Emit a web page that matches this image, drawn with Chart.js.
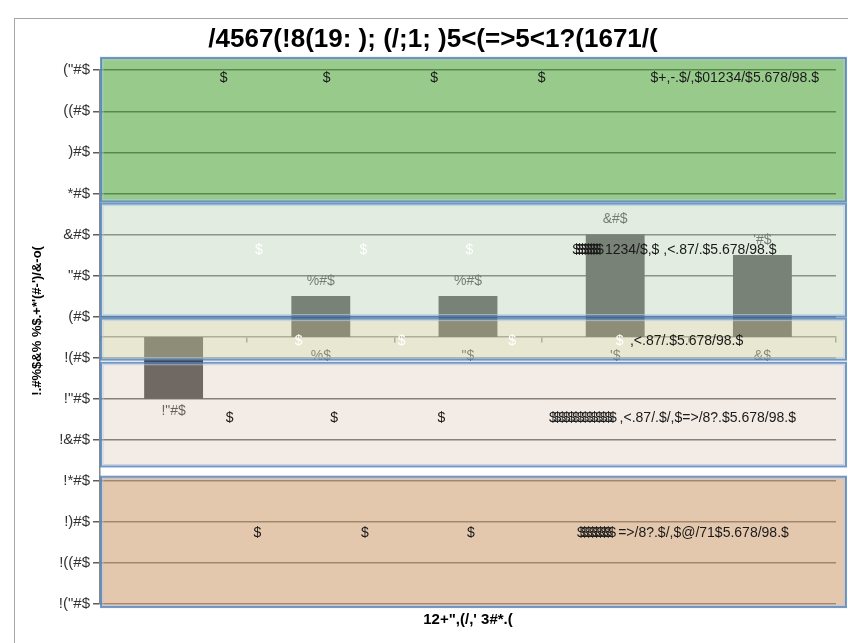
<!DOCTYPE html>
<html>
<head>
<meta charset="utf-8">
<script src="https://cdn.jsdelivr.net/npm/chart.js@4/dist/chart.umd.min.js"></script>
<style>
html, body { margin: 0; padding: 0; background: #fff; }
#wrap { position: relative; width: 848px; height: 643px; overflow: hidden; }
#frame { position: absolute; left: 14px; top: 18px; width: 900px; height: 700px; border: 1.5px solid #a6a6a6; }
canvas { position: absolute; left: 0; top: 0; }
</style>
</head>
<body>
<div id="wrap"><div id="frame"></div><canvas id="chart" width="848" height="643"></canvas></div>
<script>
// chart data (text is kept in the glyphs the picture shows)
const categories = ['($', '%$', '"$', "'$", '&$'];
const values = [-3, 2, 2, 5, 4];
const tickValues = [-13, -11, -9, -7, -5, -3, -1, 1, 3, 5, 7, 9, 11, 13];

const titleText = '/4567(!8(19: ); (/;1; )5<(=>5<1?(1671/(';
const xTitleText = '12+",(/,\' 3#*.(';
const yTitleText = '         !.#%$&% %$.+*\'(#-\')/&-o(';

// background bands (in y axis units)
const bandRanges = [[6.6, 13.6], [1.0, 6.5], [-1.1, 0.9], [-6.3, -1.25], [-13.15, -6.8]];
const bandFills = ['rgba(83,167,63,0.6)', 'rgba(192,214,188,0.46)', 'rgba(213,213,172,0.54)',
                   'rgba(218,194,175,0.33)', 'rgba(210,163,120,0.6)'];

// label rows inside the bands
const bandRows = [
    { at: 12.6, marks: [0.34, 1.04, 1.77, 2.50], color: '#1a1a1a', stack: 0, stackAt: 0, text: '$+,-.$/,$01234/$5.678/98.$', textAt: 3.24 },
    { at: 4.24, marks: [0.58, 1.29, 2.01], color: '#ffffff', stack: 9, stackAt: 2.71, text: '1234/$,$ ,<.87/.$5.678/98.$', textAt: 2.93 },
    { at: -0.19, marks: [0.85, 1.55, 2.30, 3.03], color: '#ffffff', stack: 0, stackAt: 0, text: ',<.87/.$5.678/98.$', textAt: 3.10 },
    { at: -3.94, marks: [0.38, 1.09, 1.82], color: '#1a1a1a', stack: 14, stackAt: 2.55, text: ',<.87/.$/,$=>/8?.$5.678/98.$', textAt: 3.03 },
    { at: -9.54, marks: [0.57, 1.30, 2.02], color: '#1a1a1a', stack: 9, stackAt: 2.74, text: '=>/8?.$/,$@/71$5.678/98.$', textAt: 3.02 }
];

const glyphMap = { '0': '$', '1': '(', '2': '%', '3': '"', '4': "'", '5': '&', '7': '*', '9': ')', '.': '#', '-': '!' };
function encode(v) {
    return v.toFixed(1).split('').map(c => glyphMap[c] || c).join('');
}

const FONT = '"Liberation Sans", Arial, sans-serif';

const bandPlugin = {
    id: 'bands',
    afterDatasetsDraw(chart) {
        const { ctx, chartArea, scales } = chart;
        const x = scales.x, y = scales.y;
        ctx.save();

        // value labels (under the band overlay)
        ctx.font = '14px ' + FONT;
        ctx.textAlign = 'center';
        ctx.textBaseline = 'middle';
        chart.getDatasetMeta(0).data.forEach((bar, i) => {
            const v = values[i];
            ctx.fillStyle = '#333333';
            ctx.fillText(encode(v), bar.x, v >= 0 ? bar.y - 15 : bar.y + 12);
        });

        // bands
        const left = chartArea.left + 1;
        const right = chartArea.right + 10;
        bandRanges.forEach((r, i) => {
            const top = y.getPixelForValue(r[1]);
            const bot = y.getPixelForValue(r[0]);
            ctx.fillStyle = bandFills[i];
            ctx.fillRect(left, top, right - left, bot - top);
        });
        bandRanges.forEach((r) => {
            const top = y.getPixelForValue(r[1]);
            const bot = y.getPixelForValue(r[0]);
            ctx.strokeStyle = 'rgba(79,129,189,0.8)';
            ctx.lineWidth = 2;
            ctx.strokeRect(left, top, right - left, bot - top);
            ctx.strokeStyle = 'rgba(180,200,230,0.7)';
            ctx.lineWidth = 1;
            ctx.strokeRect(left + 2, top + 2, right - left - 4, bot - top - 4);
        });

        // texts in the bands
        ctx.font = '14px ' + FONT;
        bandRows.forEach(row => {
            const py = y.getPixelForValue(row.at);
            ctx.textAlign = 'center';
            ctx.fillStyle = row.color;
            row.marks.forEach(m => ctx.fillText('$', x.getPixelForValue(m), py));
            const tx = x.getPixelForValue(row.textAt);
            if (row.stack) {
                const sx = x.getPixelForValue(row.stackAt);
                const step = (tx - sx - 6) / row.stack;
                ctx.textAlign = 'left';
                ctx.fillStyle = '#1a1a1a';
                for (let k = 0; k < row.stack; k++) ctx.fillText('$', sx + k * step, py);
            }
            ctx.textAlign = 'left';
            ctx.fillStyle = '#1a1a1a';
            ctx.fillText(row.text, tx, py);
        });

        // horizontal axis title, centred under the plot area
        ctx.font = 'bold 15px ' + FONT;
        ctx.textAlign = 'center';
        ctx.fillStyle = '#000';
        ctx.fillText(xTitleText, (chartArea.left + chartArea.right) / 2, chartArea.bottom + 16);

        ctx.restore();
    }
};

new Chart(document.getElementById('chart'), {
    type: 'bar',
    data: {
        labels: categories,
        datasets: [{
            data: values,
            backgroundColor: 'rgb(60,60,60)',
            borderWidth: 0,
            barPercentage: 0.4,
            categoryPercentage: 1.0
        }]
    },
    options: {
        responsive: false,
        animation: false,
        devicePixelRatio: 1,
        layout: { padding: { top: 19, left: 30, right: 12, bottom: 39 } },
        plugins: {
            legend: { display: false },
            tooltip: { enabled: false },
            title: {
                display: true,
                text: titleText,
                color: '#000',
                font: { family: FONT, size: 26, weight: 'bold' },
                padding: { top: 5, bottom: 15 }
            }
        },
        scales: {
            x: {
                position: { y: 0 },
                offset: true,
                grid: { drawOnChartArea: false, drawTicks: true, tickLength: 5, offset: true, color: '#868686', lineWidth: 1.5 },
                border: { display: true, color: '#868686', width: 1.5 },
                ticks: { color: '#333', padding: 6, font: { family: FONT, size: 14 } }
            },
            y: {
                min: -13,
                max: 13,
                afterBuildTicks: (scale) => { scale.ticks = tickValues.map(v => ({ value: v })); },
                afterFit: (scale) => { scale.width = 70; },
                grid: { color: 'rgba(85,85,85,0.95)', lineWidth: 1.5, tickLength: 7 },
                border: { display: true, color: '#868686', width: 1.5 },
                ticks: {
                    color: '#333',
                    padding: 3,
                    font: { family: FONT, size: 15 },
                    callback: (v) => encode(v)
                },
                title: {
                    display: true,
                    text: yTitleText,
                    color: '#000',
                    font: { family: FONT, size: 13, weight: 'bold' },
                    padding: { top: 0, bottom: 0 }
                }
            }
        }
    },
    plugins: [bandPlugin]
});
</script>
</body>
</html>
